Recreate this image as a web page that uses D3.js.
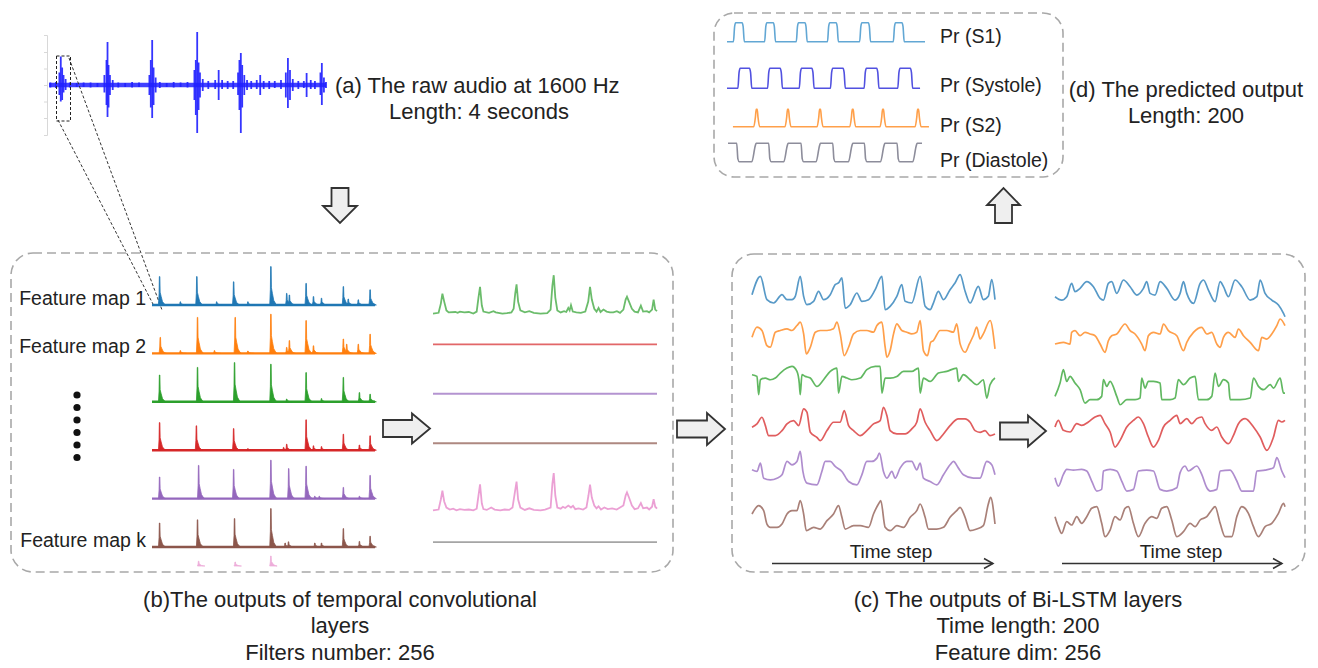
<!DOCTYPE html>
<html>
<head>
<meta charset="utf-8">
<script src="https://cdn.jsdelivr.net/npm/d3@7/dist/d3.min.js"></script>
<style>
  body { margin: 0; background: #fff; }
  svg { display: block; font-family: "Liberation Sans", Arial, sans-serif; }
</style>
</head>
<body>
<div id="wide"></div>
<script>
// ---------------- data ----------------

// (a) raw audio, strokes as [time (s), positive amplitude, negative amplitude]
const audioStrokes = [
  [0.02,0.05,0.05],[0.10,0.06,0.06],[0.15,0.25,0.2],[0.17,0.57,0.33],[0.19,0.35,0.3],[0.21,0.2,0.15],[0.24,0.12,0.1],
  [0.30,0.05,0.05],[0.40,0.04,0.04],[0.50,0.05,0.04],[0.60,0.05,0.05],[0.70,0.04,0.04],[0.80,0.2,0.15],[0.83,0.5,0.4],
  [0.845,0.86,0.64],[0.86,0.4,0.45],[0.88,0.2,0.2],[0.92,0.1,0.1],[1.0,0.05,0.05],[1.1,0.04,0.04],[1.2,0.06,0.05],
  [1.3,0.05,0.04],[1.45,0.2,0.2],[1.47,0.5,0.45],[1.49,0.9,0.66],[1.51,0.35,0.4],[1.54,0.15,0.15],[1.6,0.06,0.06],
  [1.7,0.04,0.04],[1.8,0.06,0.05],[1.9,0.05,0.04],[2.0,0.06,0.05],[2.1,0.3,0.3],[2.12,0.5,0.6],[2.14,1.06,0.96],
  [2.16,0.45,0.5],[2.18,0.25,0.25],[2.22,0.12,0.12],[2.3,0.08,0.08],[2.4,0.1,0.08],[2.45,0.3,0.3],[2.5,0.1,0.08],
  [2.58,0.08,0.08],[2.66,0.08,0.08],[2.73,0.25,0.2],[2.75,0.5,0.5],[2.77,0.64,0.96],[2.79,0.4,0.45],[2.82,0.2,0.2],
  [2.86,0.1,0.1],[2.92,0.08,0.08],[3.0,0.1,0.08],[3.05,0.2,0.2],[3.1,0.08,0.08],[3.18,0.08,0.08],[3.26,0.08,0.06],
  [3.35,0.1,0.08],[3.42,0.25,0.25],[3.45,0.54,0.46],[3.48,0.3,0.3],[3.52,0.12,0.12],[3.6,0.08,0.08],[3.68,0.08,0.06],
  [3.72,0.24,0.24],[3.78,0.1,0.08],[3.84,0.08,0.08],[3.92,0.25,0.2],[3.94,0.44,0.4],[3.97,0.15,0.15],[4.0,0.06,0.06]
];

// (b) feature maps, peaks as [position 0-100, activation 0-1]
const fm1 = [[3.4,.71],[12.7,.08],[20.1,.71],[29,.08],[36.6,.58],[43,.08],[53.3,.96],[60.4,.29],[61.6,.25],[69.1,.54],[72.4,.21],[76,.17],[85.8,.46],[88,.15],[92.5,.13],[97.8,.38]];
const fm2 = [[3.7,.4],[12.7,.07],[20.4,.9],[28,.07],[37.3,.9],[43,.06],[53.3,.98],[60.4,.15],[61.6,.32],[69.1,.82],[72.4,.19],[85.8,.36],[87.3,.23],[92.5,.23],[97.8,.48]];
const fm3 = [[3.4,.67],[20.4,.86],[37,.98],[53.3,.94],[60.4,.07],[69.1,.73],[76,.08],[85.8,.61],[93,.23],[97.8,.19]];
const fm4 = [[3.4,.69],[19.9,.61],[36.6,.54],[43,.04],[59,.07],[60.4,.15],[69.1,.76],[72.4,.11],[76,.09],[85.8,.4],[93,.13],[97.8,.36]];
const fm5 = [[3.4,.54],[20.9,.83],[36.6,.73],[53.3,.96],[61.3,.75],[69.1,.81],[73,.06],[75,.06],[85.8,.28],[93,.06],[97.8,.58]];
const fm6 = [[3.4,.6],[20.4,.68],[37,.71],[53.3,.96],[59.7,.1],[61.2,.13],[73,.1],[76,.1],[85.8,.46],[93,.14],[97.8,.27]];
const fm7 = [[20.9,.12],[37.3,.1],[53.3,.25]];
const featureMaps = [fm1, fm2, fm3, fm4, fm5, fm6];
const fmLabels = ["Feature map 1", "Feature map 2", "", "", "", "Feature map k"];

// middle column: outputs of the last conv layer, [position 0-100, activation]
const midGreen = [[0,0],[2.5,0.02],[3.5,0.25],[4.2,0.5],[5,0.3],[6,0.08],[7,0.03],[10,0.04],[11,0.02],[12,0.05],[14,0.03],[16,0.04],[18,0],[19.5,0.05],[20.3,0.4],[21,0.67],[21.8,0.2],[22.5,0.05],[25,0.02],[27,0.06],[28,0.03],[31,0],[33,0.01],[35,0.03],[36,0.12],[36.7,0.5],[37.3,0.73],[38,0.3],[39,0.08],[41,0.03],[43,0.06],[45,0.02],[48,0],[51,0.01],[52.5,0.1],[53.3,0.7],[53.9,0.96],[54.6,0.4],[55.5,0.08],[57,0.03],[58.5,0.06],[59.5,0.04],[60.4,0.14],[61,0.08],[61.6,0.21],[62.4,0.05],[64,0.03],[66,0.02],[68,0.05],[69.3,0.3],[70.1,0.67],[70.9,0.35],[72,0.12],[73,0.05],[73.9,0.14],[74.8,0.04],[76.1,0.1],[77.5,0.05],[79,0.03],[80.5,0.03],[82.1,0.06],[83.5,0.02],[85,0.1],[86,0.35],[86.6,0.42],[87.5,0.3],[88.8,0.12],[90,0.05],[91.5,0.03],[92.8,0.2],[93.8,0.05],[95.5,0.06],[96.5,0.03],[97.8,0.1],[98.5,0.35],[99.2,0.1],[100,0.06]];
const midPink = [[0,0.03],[2.5,0.05],[3.5,0.3],[4.2,0.52],[5,0.25],[6,0.1],[7.5,0.05],[9,0.07],[10.5,0.03],[12,0.06],[14,0.04],[16,0.05],[18,0.03],[19.5,0.07],[20.3,0.4],[21,0.68],[21.8,0.2],[22.5,0.06],[24,0.04],[26,0.1],[27.5,0.05],[30,0.03],[32,0.05],[34,0.04],[35.5,0.1],[36.6,0.5],[37.3,0.75],[38,0.3],[39,0.1],[41,0.04],[43,0.08],[45,0.04],[48,0.03],[50,0.05],[52.5,0.1],[53.3,0.7],[53.9,0.96],[54.6,0.4],[55.5,0.1],[57,0.07],[58,0.12],[59,0.09],[60.4,0.15],[61.6,0.1],[62.5,0.14],[63.5,0.06],[65,0.08],[67,0.05],[68.5,0.1],[69.4,0.4],[70.1,0.67],[70.9,0.35],[72,0.15],[73,0.08],[73.9,0.13],[75,0.05],[76.5,0.1],[78,0.06],[80,0.08],[82,0.05],[83.5,0.1],[85,0.15],[86,0.4],[86.6,0.48],[87.5,0.35],[88.8,0.15],[90,0.06],[91.5,0.08],[92.8,0.21],[93.8,0.08],[95.5,0.1],[96.5,0.05],[97.8,0.12],[98.5,0.31],[99.2,0.12],[100,0.07]];
const midFlat = [[0,0.47],[100,0.47]];
const midSeries = [midGreen, midFlat, midFlat, midFlat, midPink, midFlat];
const midColors = ["#2ca02c", "#d62728", "#9467bd", "#8c564b", "#e377c2", "#7f7f7f"];

// (c) Bi-LSTM outputs, [time step 0-200, value]
const lstmL = [
  [[0,-0.1],[6.9,1.0],[12.3,-0.4],[17.8,-0.6],[24.7,-0.1],[28.8,-0.4],[32.9,-0.4],[35.6,-0.2],[39.7,1.0],[42.5,-0.2],[45.2,-0.7],[50.7,-0.5],[54.8,0.1],[58.9,-0.4],[64.4,-0.1],[68.5,0.5],[71.2,0.6],[74,0.9],[76.7,-0.9],[80.8,-0.7],[86.3,0],[90.4,-0.5],[95.9,-0.4],[101.4,0.2],[106.9,1.0],[109.6,-1.0],[113.7,-0.8],[119.2,-0.2],[123.3,0.5],[126,-0.5],[131.5,-0.6],[138.4,1.0],[142.5,-0.8],[146.6,-1.0],[149.3,-0.6],[153.4,0.1],[157.6,-0.4],[163,0.2],[167.1,0.6],[171.3,1.1],[175.4,0.1],[179.5,-0.6],[186.3,0.4],[190.4,-0.4],[194.5,-0.2],[197.3,0.8],[200,-0.4]],
  [[0,0],[4.1,0.6],[8.2,0.4],[12.3,-0.5],[15.1,-0.6],[19.2,0.3],[23.3,0.4],[28.8,0.5],[32.9,0.4],[37,0.7],[39.7,0.9],[42.5,0.2],[44.7,-1.0],[48,-0.6],[52.1,0.3],[56.2,0.4],[61.7,0.4],[67.1,0.5],[69.9,0.9],[72.6,0.2],[75.9,-1.1],[79.5,-0.6],[83.6,0.2],[89.1,0.4],[94.5,0.4],[100,0.3],[102.8,0.7],[106.9,0.9],[109.6,-0.6],[111,-1.2],[113.7,-0.8],[116.5,0.2],[119.2,0.8],[123.3,0.4],[127.4,0.3],[131.5,0.2],[135.6,0.3],[138.4,1.0],[141.1,-0.8],[144.4,-1.1],[147.1,-0.3],[149.3,-0.2],[154.8,0.4],[160.3,0.4],[165.8,0.3],[168.5,0.8],[171.3,-0.4],[175.4,-0.9],[178.9,-0.4],[182.2,0.1],[185,0.6],[187.7,-0.1],[190.4,0.2],[196,1.0],[200,-0.7]],
  [[0,0.4],[4.1,0.3],[5.5,-0.8],[6.9,0.1],[11,0.2],[15.1,0.1],[19.2,0.2],[23.3,0.5],[28.8,0.8],[32.9,0.9],[37,0.6],[38.9,-0.1],[39.7,-0.8],[41.1,0.4],[43.8,0.3],[48,0.2],[53.4,-0.3],[58.9,0.1],[64.4,0.6],[69.9,0.8],[71.2,-0.7],[74,0.3],[78.1,0.2],[82.2,0.1],[89.1,0.2],[94.5,0.7],[101.4,0.9],[105.5,0.9],[106.9,-0.7],[109.6,0.2],[113.7,0.2],[119.2,0.3],[124.7,0.6],[131.5,0.6],[137,0.8],[138.4,-0.7],[141.1,0.2],[146.6,0],[153.4,0.5],[160.3,0.6],[168.5,0.8],[169.9,0],[174,0.4],[179.5,0.1],[185,-0.2],[190.4,0.1],[193.2,-1.0],[195.9,-0.2],[200,0.2]],
  [[0,-0.1],[4.1,0.1],[8.2,0.5],[11,0],[13.7,-0.6],[19.2,-0.6],[24.7,-0.3],[28.8,0.1],[34.2,0.3],[38.4,0],[42.5,1.0],[45.2,0.8],[48,-0.4],[53.4,-0.7],[56.2,-0.9],[61.7,-0.3],[67.1,0.2],[72.6,0.2],[75.9,0.9],[79.5,0],[83.6,-0.3],[89.1,-0.6],[94.5,-0.3],[100,0.1],[105.5,0.3],[108.2,1.1],[111,0.6],[113.7,-0.3],[119.2,-0.5],[126,-0.5],[131.5,-0.2],[135.6,0.2],[138.4,1.0],[142.5,0.2],[146.6,-0.3],[152.1,-0.9],[157.6,-0.5],[163,0],[169.9,0.4],[175.4,0.4],[179.5,0.2],[183.6,-0.3],[187.7,-0.4],[191.8,-0.3],[195.9,-0.6],[200,-0.5]],
  [[0,0],[4.1,-0.1],[6.9,0.4],[9.6,-0.5],[15.1,-0.6],[20.6,-0.5],[24.7,-0.3],[28.8,0.5],[32.9,0.3],[37,0.5],[39.7,1.1],[41.9,-0.1],[45.2,-0.8],[53.4,-0.9],[57.5,-0.1],[60.3,0.5],[64.4,0.5],[68.5,0.2],[74,-0.1],[79.5,-0.7],[86.3,-0.9],[90.4,-0.3],[94.5,0.5],[98.6,0.5],[102.8,0.7],[104.9,1.0],[108.2,-0.1],[111,-0.5],[115.1,-0.1],[117.8,-0.5],[121.9,0.1],[127.4,0.5],[131.5,0.5],[135.6,0],[138.4,0.4],[141.1,-0.5],[146.6,-0.7],[152.1,-0.9],[157.6,-0.3],[163,0.3],[165.8,0.5],[169.9,0.1],[174,-0.3],[182.2,-0.5],[187.7,-0.5],[193.2,0.5],[197.3,0.3],[200,-0.3]],
  [[0,0],[5.5,0.5],[9.6,0.2],[12.3,-0.6],[15.1,-0.8],[20.6,-0.8],[24.7,-0.6],[28.8,0],[32.9,0.2],[37,0.2],[39.7,0.8],[42.5,0],[44.7,-1.0],[50.7,-0.8],[56.2,-0.9],[61.7,-0.4],[67.1,0],[71.2,0.5],[74,-0.2],[76.7,-0.9],[83.6,-0.7],[89.1,-0.7],[95.9,-0.8],[100,0],[104.1,0.6],[106,0.8],[109.6,-0.8],[113.7,-1.0],[119.2,-0.7],[124.7,-0.8],[130.2,-0.2],[135.6,0.2],[138.4,0.6],[142.5,-0.2],[145.2,-0.9],[152.1,-0.9],[157.6,-0.8],[163,-0.2],[168.5,0.2],[171.3,0.4],[175.4,-0.2],[179.5,-1.0],[185,-0.9],[190.4,-0.7],[194.5,0.6],[196.4,1.0],[200,-0.6]]
];
const lstmR = [
  [[0,-0.3],[5.8,-0.5],[10.2,-0.3],[14.5,0.5],[17.4,0],[21.8,0.2],[27.6,0.6],[33.4,0.3],[39.2,-0.4],[42.1,-0.5],[46.4,0.5],[49.3,0.6],[53.7,-0.1],[59.5,0.7],[65.3,0.3],[71.1,-0.2],[76.9,0.2],[79.8,0.6],[82.7,-0.1],[87,-0.2],[91.4,0.6],[97.2,0.2],[104.4,-0.5],[108.8,-0.1],[111.7,0.6],[114.6,-0.1],[120.4,-0.7],[126.2,0.5],[129.1,0.7],[133.4,0.1],[139.2,-0.6],[143.6,0.6],[146.5,0.3],[150.8,-0.3],[156.6,0.7],[162.4,0.3],[169.7,-0.5],[175.5,-0.3],[178.4,0.7],[182.7,-0.1],[188.5,-0.5],[194.3,-0.8],[198.7,-1.3],[200,-1.5]],
  [[0,-0.4],[7.3,-0.3],[13.1,-0.4],[14.5,0.3],[17.4,0.4],[21.8,0.1],[26.1,0.3],[30.5,0.2],[34.8,0.1],[39.2,-0.4],[43.5,-0.9],[46.4,-0.2],[49.3,0.1],[53.7,0.2],[60.9,0.8],[65.3,0.4],[69.6,0.2],[75.4,-0.4],[78.3,-0.8],[81.2,0.1],[85.6,0.3],[91.4,0.2],[94.3,0.8],[98.6,0.4],[105.9,0.1],[111.7,-0.8],[114.6,-0.3],[120.4,0.3],[127.6,0.6],[132,0.2],[136.3,0.3],[140.7,-0.4],[143.6,-0.6],[146.5,0],[150.8,0.3],[156.6,0],[159.5,0.5],[163.9,0.1],[169.7,-0.3],[176.9,-0.8],[179.8,0],[184.2,-0.1],[188.5,0.2],[192.9,0.7],[195.8,1.1],[200,0.7]],
  [[0,-0.8],[4.4,0],[7.3,0.8],[10.2,0.1],[13.1,0.4],[17.4,0],[21.8,-0.4],[26.1,-1.2],[30.5,-1.0],[36.3,-1.0],[40.6,-0.8],[42.1,0.2],[45,-0.2],[47.9,0.1],[53.7,-0.8],[56.6,-1.3],[62.4,-1.0],[69.6,-1.0],[74,-0.9],[75.4,0.3],[78.3,-0.3],[81.2,0.1],[85.6,0.1],[91.4,0],[92.8,-1.0],[100.1,-1.0],[104.4,-0.9],[107.3,0.2],[111.7,-0.1],[117.5,0.3],[121.8,0.4],[124.7,-1.0],[132,-1.0],[136.3,-0.8],[139.2,0.6],[142.1,-0.2],[146.5,0.2],[150.8,0],[152.3,-1.0],[161,-1.0],[169.7,-0.9],[172.6,0.3],[176.9,-0.2],[181.3,-0.4],[187.1,-0.1],[190,-0.3],[195.8,0.3],[198.7,-0.6],[200,-0.6]],
  [[0,0.1],[2.9,0.5],[7.3,-0.1],[13.1,-0.2],[18.9,0.3],[23.2,0.2],[29,0.4],[34.8,0.7],[39.2,0.8],[43.5,0.3],[47.9,-0.2],[52.2,-1.1],[56.6,-0.7],[62.4,0.1],[68.2,0.5],[72.5,0.7],[76.9,0.3],[81.2,-0.5],[85.6,-1.1],[89.9,-0.7],[94.3,0.1],[100.1,0.5],[105.9,0.8],[108.8,0.3],[114.6,0.6],[118.9,0.3],[123.3,0.6],[127.6,0.7],[130.5,0.3],[136.3,-0.1],[140.7,0.1],[145,-0.5],[150.8,-0.9],[155.2,-0.4],[159.5,0.3],[165.3,0.6],[172.6,0.1],[178.4,-0.5],[184.2,-1.3],[190,-0.5],[194.3,0.5],[197.2,0.4],[200,0.5]],
  [[0,-0.2],[2.9,-0.7],[7.3,0],[10.2,0.3],[16,0.25],[23.2,0.3],[27.6,0.2],[31.9,-0.4],[36.3,-1.0],[40.6,-0.9],[42.1,0.2],[47.9,0.3],[53.7,0.2],[58,-0.4],[62.4,-1.0],[68.2,-0.9],[72.5,0.2],[79.8,0.25],[85.6,0.2],[91.4,-0.9],[97.2,-1.0],[105.9,-0.8],[108.8,0.1],[113.1,0.5],[116,0.2],[123.3,0.5],[127.6,0],[132,-0.8],[134.9,-1.0],[140.7,-0.9],[143.6,0.2],[152.3,0.25],[158.1,-0.4],[162.4,-1.0],[172.6,-1.0],[175.5,0.2],[182.7,0.25],[190,0.4],[192.9,1.0],[197.2,0.2],[200,-0.2]],
  [[0,0.2],[2.9,-0.4],[5.8,-0.8],[10.2,-0.1],[14.5,-0.3],[18.9,0.2],[23.2,-0.2],[27.6,0.2],[31.9,0.7],[36.3,0.8],[40.6,-0.2],[43.5,-1.0],[47.9,-0.6],[52.2,0.2],[56.6,0],[60.9,0.7],[63.8,0.8],[68.2,-0.2],[72.5,-1.0],[78.3,-0.2],[84.1,0.2],[88.5,0.1],[92.8,0.7],[97.2,0.8],[101.5,0],[105.9,-1.0],[111.7,-0.7],[117.5,-0.2],[121.8,-0.4],[126.2,0],[132,0.2],[136.3,0.6],[139.2,0.8],[143.6,-0.2],[147.9,-1.0],[153.7,-1.0],[158.1,0.2],[162.4,0.8],[168.2,0.4],[172.6,-0.4],[176.9,-1.0],[182.7,-0.4],[188.5,-0.2],[194.3,0.4],[198.7,1.0],[200,0.8]]
];
const lstmColors = ["#1f77b4", "#ff7f0e", "#2ca02c", "#d62728", "#9467bd", "#8c564b"];

// (d) predicted output, [onset, offset] in time steps
const s1Pulses = [[7.5,16.5],[39,48],[71,80],[102.5,111.5],[135,144],[169,178]];
const systolePulses = [[12,24],[42,55],[74,87],[105.5,118.5],[139.5,152.5],[173.5,186.5]];
const s2Peaks = [30, 61.6, 94, 127, 157.6, 193];
const diastoleLows = [[10.4,27.3],[42.7,59.6],[75.4,92.2],[107.4,124.9],[139.4,157.3],[172.4,189.9]];
const predLabels = ["Pr (S1)", "Pr (Systole)", "Pr (S2)", "Pr (Diastole)"];
const predColors = ["#62a7d4", "#5151e0", "#ffa04a", "#8d8d9b"];

// ---------------- drawing ----------------

const svg = d3.select("#wide")
    .append("svg")
    .attr("width", 1318)
    .attr("height", 668);

const TEXT = "#222";

function dashedBox(x, y, w, h, r) {
    svg.append("rect")
        .attr("x", x).attr("y", y)
        .attr("width", w).attr("height", h)
        .attr("rx", r).attr("ry", r)
        .attr("fill", "none")
        .attr("stroke", "#a8a8a8")
        .attr("stroke-width", 1.6)
        .attr("stroke-dasharray", "9,5");
}

function label(x, y, str, size, anchor) {
    svg.append("text")
        .attr("x", x).attr("y", y)
        .attr("font-size", size)
        .attr("fill", TEXT)
        .attr("text-anchor", anchor || "start")
        .text(str);
}

// block arrow; dir: right / down / up
function blockArrow(dir, cx, cy, len, shaft, head, headLen) {
    let pts;
    const a = -len / 2, b = len / 2, h = b - headLen;
    if (dir == "right") {
        pts = [[a, -shaft], [h, -shaft], [h, -head], [b, 0], [h, head], [h, shaft], [a, shaft]];
    } else if (dir == "down") {
        pts = [[-shaft, a], [-shaft, h], [-head, h], [0, b], [head, h], [shaft, h], [shaft, a]];
    } else {
        pts = [[-shaft, b], [-shaft, -h], [-head, -h], [0, a], [head, -h], [shaft, -h], [shaft, b]];
    }
    svg.append("polygon")
        .attr("points", pts.map(p => [cx + p[0], cy + p[1]].join(",")).join(" "))
        .attr("fill", "#efefef")
        .attr("stroke", "#333")
        .attr("stroke-width", 1.8)
        .attr("stroke-linejoin", "miter");
}

// ---- (a) raw audio
const audioX = d3.scaleLinear().domain([0, 4]).range([49, 326]);
const audioY = d3.scaleLinear().domain([-1, 1]).range([135, 35]);

const audioAxis = d3.axisLeft(audioY).tickValues([-1, -0.66, -0.33, 0, 0.33, 0.66, 1]).tickSize(3).tickFormat("");
svg.append("g")
    .attr("transform", "translate(47,0)")
    .call(audioAxis)
    .call(g => g.selectAll("line,path").attr("stroke", "#d8d8d8"));

// background noise band
svg.append("line")
    .attr("x1", audioX(0)).attr("x2", audioX(4))
    .attr("y1", audioY(0)).attr("y2", audioY(0))
    .attr("stroke", "#2020ff").attr("stroke-width", 4.5).attr("opacity", 0.85);

svg.append("g")
    .selectAll("line")
    .data(audioStrokes)
    .enter().append("line")
    .attr("x1", d => audioX(d[0])).attr("x2", d => audioX(d[0]))
    .attr("y1", d => audioY(d[1])).attr("y2", d => audioY(-d[2]))
    .attr("stroke", "#2020ff")
    .attr("stroke-width", 1.8)
    .attr("opacity", 0.9);

// zoom box + guide lines
svg.append("rect")
    .attr("x", 56.5).attr("y", 56).attr("width", 14).attr("height", 65)
    .attr("fill", "none").attr("stroke", "#222").attr("stroke-width", 1)
    .attr("stroke-dasharray", "3,2");
svg.append("line").attr("x1", 69).attr("y1", 58).attr("x2", 162).attr("y2", 310)
    .attr("stroke", "#333").attr("stroke-width", 1).attr("stroke-dasharray", "3,2");
svg.append("line").attr("x1", 58).attr("y1", 120).attr("x2", 154).attr("y2", 306)
    .attr("stroke", "#333").attr("stroke-width", 1).attr("stroke-dasharray", "3,2");

label(335, 93, "(a) The raw audio at 1600 Hz", 22);
label(479, 119, "Length: 4 seconds", 22, "middle");

blockArrow("down", 340, 205.5, 35, 8.5, 17, 17);

// ---- (b) temporal conv outputs
dashedBox(11, 253, 662, 319, 22);

const fmX = d3.scaleLinear().domain([0, 100]).range([152, 375]);
const fmRow = d3.scaleLinear().domain([0, 5]).range([305, 547]);
// shape of one activation peak (offset in steps, fraction of height)
const peakShape = [[-0.5,0],[-0.22,0.4],[-0.1,1],[0.12,1],[0.25,0.45],[0.7,0.3],[1.3,0.12],[2.2,0.03],[2.8,0]];

function drawPeaks(g, peaks, base, color) {
    const y = d3.scaleLinear().domain([0, 1]).range([base, base - 40]);
    const area = d3.area()
        .x(d => fmX(d[0]))
        .y0(base)
        .y1(d => y(d[1]));
    g.selectAll("path.peak")
        .data(peaks)
        .enter().append("path")
        .attr("class", "peak")
        .attr("d", p => area(peakShape.map(s => [p[0] + s[0], p[1] * s[1]])))
        .attr("fill", color)
        .attr("stroke", color)
        .attr("stroke-width", 0.8);
}

featureMaps.forEach((fm, i) => {
    const base = fmRow(i);
    const g = svg.append("g").attr("class", "fmap");
    g.append("line")
        .attr("x1", fmX(0)).attr("x2", fmX(100))
        .attr("y1", base).attr("y2", base)
        .attr("stroke", lstmColors[i]).attr("stroke-width", 2.4);
    drawPeaks(g, fm, base, lstmColors[i]);
    if (fmLabels[i]) label(146, base, fmLabels[i], 19.5, "end");
});
drawPeaks(svg.append("g").attr("opacity", 0.6), fm7, 566, "#e377c2");

// vertical ellipsis
svg.append("g")
    .selectAll("circle")
    .data(d3.range(6))
    .enter().append("circle")
    .attr("cx", 77)
    .attr("cy", d => 395 + d * 12.5)
    .attr("r", 3.6)
    .attr("fill", "#111");

blockArrow("right", 406.5, 428.5, 47, 8.5, 15, 18);

const midX = d3.scaleLinear().domain([0, 100]).range([433, 657]);
const midRow = d3.scaleLinear().domain([0, 5]).range([294.6, 542]);
midSeries.forEach((s, i) => {
    const c = midRow(i);
    const y = d3.scaleLinear().domain([0, 1]).range([c + 19, c - 21]);
    svg.append("path")
        .datum(s)
        .attr("d", d3.line().x(d => midX(d[0])).y(d => y(d[1])))
        .attr("fill", "none")
        .attr("stroke", midColors[i])
        .attr("stroke-width", 1.8)
        .attr("stroke-opacity", 0.7);
});

label(340, 607, "(b)The outputs of temporal convolutional", 22, "middle");
label(340, 633, "layers", 22, "middle");
label(340, 660, "Filters number: 256", 22, "middle");

// ---- (c) Bi-LSTM outputs
blockArrow("right", 701, 429, 48, 8.5, 16, 18);
dashedBox(732, 254, 573, 318, 22);

function lstmPanel(series, x0, x1, rowTop, rowBottom) {
    const x = d3.scaleLinear().domain([0, 200]).range([x0, x1]);
    const row = d3.scaleLinear().domain([0, 5]).range([rowTop, rowBottom]);
    series.forEach((s, i) => {
        const c = row(i);
        const y = d3.scaleLinear().domain([-1, 1]).range([c + 16.7, c - 16.7]);
        svg.append("path")
            .datum(s)
            .attr("d", d3.line().x(d => x(d[0])).y(d => y(d[1])).curve(d3.curveMonotoneX))
            .attr("fill", "none")
            .attr("stroke", lstmColors[i])
            .attr("stroke-width", 1.7)
            .attr("stroke-opacity", 0.75)
            .attr("stroke-linejoin", "round");
    });
}
lstmPanel(lstmL, 752, 995, 293, 514);
lstmPanel(lstmR, 1055, 1285, 291.7, 520);

blockArrow("right", 1023, 431, 46, 8.5, 15.5, 18);

function timeAxis(x0, x1, y, cx) {
    svg.append("line").attr("x1", x0).attr("x2", x1).attr("y1", y).attr("y2", y)
        .attr("stroke", "#333").attr("stroke-width", 1.5);
    svg.append("path")
        .attr("d", `M${x1 - 9},${y - 5}L${x1},${y}L${x1 - 9},${y + 5}`)
        .attr("fill", "none").attr("stroke", "#333").attr("stroke-width", 1.5);
    label(cx, y - 6, "Time step", 19, "middle");
}
timeAxis(772, 993, 563.5, 891);
timeAxis(1062, 1282, 563.5, 1181);

label(1018, 607, "(c) The outputs of Bi-LSTM layers", 22, "middle");
label(1018, 633, "Time length: 200", 22, "middle");
label(1018, 660, "Feature dim: 256", 22, "middle");

// ---- (d) predicted output
blockArrow("up", 1003.5, 205.5, 35, 8.5, 16.5, 17);
dashedBox(714, 13, 349, 164, 20);

const predX = d3.scaleLinear().domain([0, 200]).range([727, 925]);
const predBase = [41.7, 88.3, 126.7, 161.7];
const predHeight = [19, 20, 17.5, 18.5];

function pulsePoints(pulses, t0, t1) {
    const pts = [[t0, 0]];
    pulses.forEach(p => {
        pts.push([p[0] - 1, 0], [p[0] + 0.2, 0.8], [p[0] + 1.3, 1], [p[1] - 1.3, 1], [p[1] - 0.2, 0.8], [p[1] + 1, 0]);
    });
    pts.push([t1, 0]);
    return pts;
}
function peakPoints(centers, t0, t1) {
    const pts = [[t0, 0]];
    centers.forEach(c => {
        pts.push([c - 3, 0], [c - 1.3, 0.55], [c - 0.5, 1], [c + 0.5, 1], [c + 1.3, 0.55], [c + 3, 0]);
    });
    pts.push([t1, 0]);
    return pts;
}
function dipPoints(lows, t0, t1) {
    const pts = [[t0, 1]];
    lows.forEach(p => {
        pts.push([p[0] - 0.6, 1], [p[0] + 0.6, 0.15], [p[0] + 2, 0], [p[1] - 2.2, 0], [p[1] + 1.2, 0.85], [p[1] + 2.2, 1]);
    });
    pts.push([t1, 1]);
    return pts;
}

const predSeries = [
    pulsePoints(s1Pulses, 0, 200),
    pulsePoints(systolePulses, 0, 195),
    peakPoints(s2Peaks, 6, 204),
    dipPoints(diastoleLows, 1, 197)
];

predSeries.forEach((s, i) => {
    const y = d3.scaleLinear().domain([0, 1]).range([predBase[i], predBase[i] - predHeight[i]]);
    svg.append("path")
        .datum(s)
        .attr("d", d3.line().x(d => predX(d[0])).y(d => y(d[1])).curve(d3.curveMonotoneX))
        .attr("fill", "none")
        .attr("stroke", predColors[i])
        .attr("stroke-width", 1.6);
});

const predLabelY = [43, 92, 132, 167];
predLabels.forEach((t, i) => label(940, predLabelY[i], t, 19.5));

label(1186, 97, "(d) The predicted output", 22, "middle");
label(1186, 123, "Length: 200", 22, "middle");
</script>
</body>
</html>
